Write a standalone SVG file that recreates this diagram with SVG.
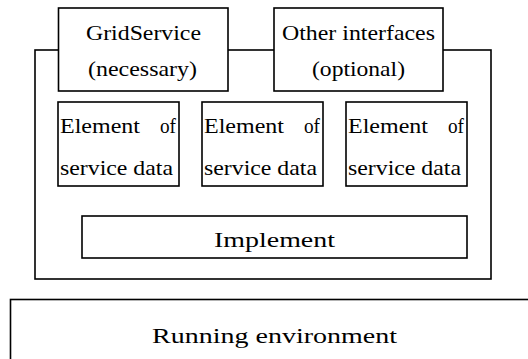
<svg xmlns="http://www.w3.org/2000/svg" width="528" height="359" viewBox="0 0 528 359">
<style>
.b{fill:#fff;stroke:#000;stroke-width:1.6}
text{font-family:'Liberation Serif','Times New Roman',Times,serif;font-size:22px;fill:#000}
</style>
<rect width="528" height="359" fill="#fff"/>
<g id="container"><rect class="b" x="35" y="50" width="456" height="229"/></g>
<g id="gridservice">
<rect class="b" x="58.5" y="8" width="169.5" height="83"/>
<text x="86" y="40" textLength="115" lengthAdjust="spacingAndGlyphs">GridService</text>
<text x="88" y="76" textLength="109" lengthAdjust="spacingAndGlyphs">(necessary)</text>
</g>
<g id="other">
<rect class="b" x="274" y="8" width="169" height="83"/>
<text x="282" y="40" textLength="153" lengthAdjust="spacingAndGlyphs">Other interfaces</text>
<text x="312" y="76" textLength="93" lengthAdjust="spacingAndGlyphs">(optional)</text>
</g>
<g id="element1">
<rect class="b" x="58" y="102" width="121" height="84"/>
<text x="60" y="133" textLength="80" lengthAdjust="spacingAndGlyphs">Element</text><text x="160" y="133" textLength="16" lengthAdjust="spacingAndGlyphs">of</text>
<text x="60" y="175" textLength="113" lengthAdjust="spacingAndGlyphs">service data</text>
</g>
<g id="element2">
<rect class="b" x="202" y="102" width="121" height="84"/>
<text x="204" y="133" textLength="80" lengthAdjust="spacingAndGlyphs">Element</text><text x="304" y="133" textLength="16" lengthAdjust="spacingAndGlyphs">of</text>
<text x="204" y="175" textLength="113" lengthAdjust="spacingAndGlyphs">service data</text>
</g>
<g id="element3">
<rect class="b" x="346" y="102" width="121" height="84"/>
<text x="348" y="133" textLength="80" lengthAdjust="spacingAndGlyphs">Element</text><text x="448" y="133" textLength="16" lengthAdjust="spacingAndGlyphs">of</text>
<text x="348" y="175" textLength="113" lengthAdjust="spacingAndGlyphs">service data</text>
</g>
<g id="implement">
<rect class="b" x="82" y="216" width="385" height="42"/>
<text x="214" y="247" textLength="121" lengthAdjust="spacingAndGlyphs">Implement</text>
</g>
<g id="running">
<rect class="b" x="10.5" y="299.5" width="530" height="80"/>
<text x="152" y="343" textLength="245" lengthAdjust="spacingAndGlyphs">Running environment</text>
</g>
<g id="connectors"></g>
</svg>
